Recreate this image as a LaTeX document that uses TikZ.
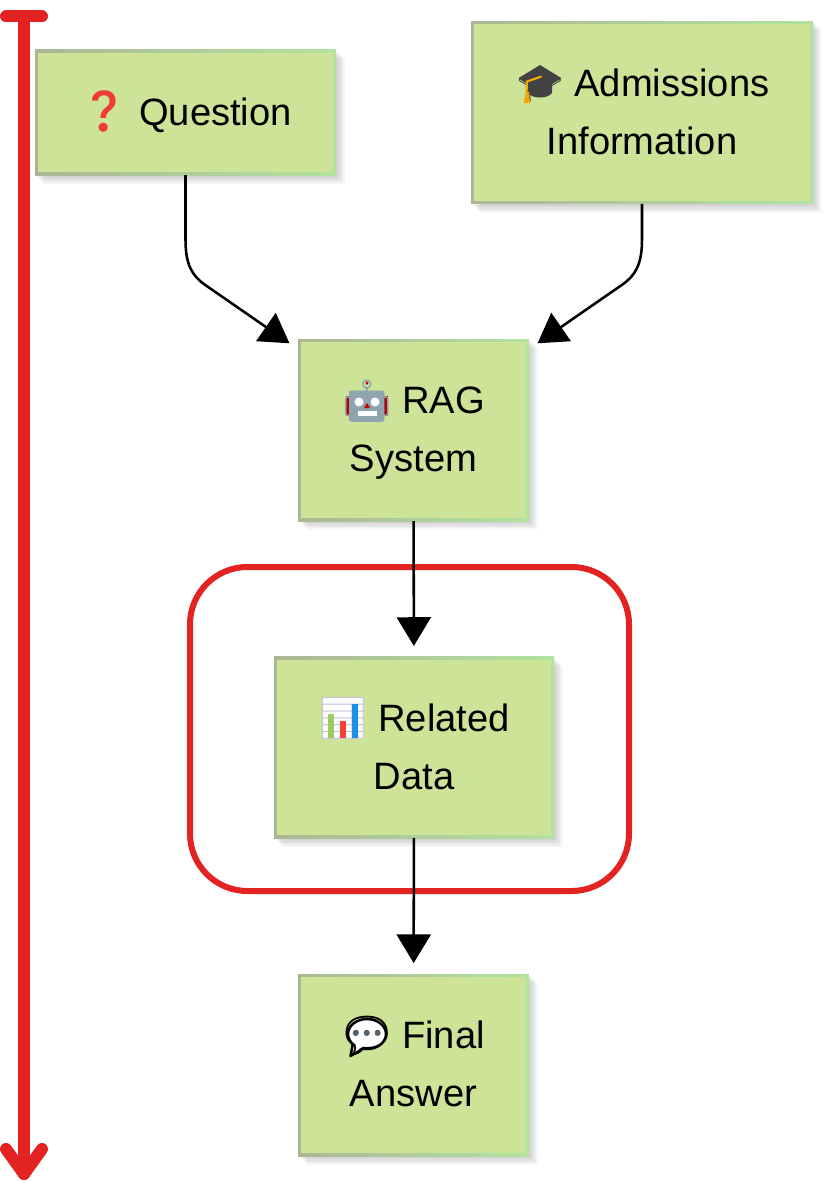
\documentclass[tikz,border=0pt]{standalone}
\usepackage{fontspec}
\setmainfont{Liberation Sans}
\newfontfamily\emojifont{Noto Emoji}
\usepackage{xcolor}
\usetikzlibrary{arrows.meta,shadows}
\definecolor{boxfill}{HTML}{CDE498}
\definecolor{edgeL}{HTML}{ABB794}
\definecolor{edgeR}{HTML}{B1E39F}
\definecolor{markred}{HTML}{E32222}
\definecolor{slate}{HTML}{90A4AE}
\definecolor{hatgray}{HTML}{424242}
\definecolor{tassel}{HTML}{F2A900}
\definecolor{qred}{HTML}{EF3B36}
\definecolor{bargreen}{HTML}{9CCC65}
\definecolor{barred}{HTML}{F44336}
\definecolor{barblue}{HTML}{1E90E8}
\newcommand*{\icongap}{\hspace*{45pt}}
\newcommand*{\topline}{\rule{0pt}{32pt}\strut}
\tikzset{
  soft/.style   ={drop shadow={shadow xshift=#1,shadow yshift=-#1,opacity=.03,fill=black}},
  box/.style    ={shade,left color=edgeL,right color=edgeR,shading angle=90,
                  inner sep=0pt,outer sep=0pt,align=center,
                  font=\fontsize{28.6}{43.5}\selectfont,
                  soft=6.5pt,soft=5.5pt,soft=4.5pt,soft=3.5pt,soft=2.5pt,soft=1.5pt,
                  path picture={\fill[boxfill]
                    ([shift={(2.2pt,-2.2pt)}]path picture bounding box.north west) rectangle
                    ([shift={(-2.2pt,2.2pt)}]path picture bounding box.south east);}},
  bigbox/.style ={box,minimum width=173pt,minimum height=136.5pt},
  flow/.style   ={-{Triangle[length=21.5pt,width=25.5pt]},line width=1.9pt,black},
  gapflow/.style={flow,shorten >=8.2pt},
  focus/.style  ={draw=markred,line width=4.5pt,rounded corners=43pt,inner sep=0pt,
                  minimum width=329.25pt,minimum height=243pt},
  timeline/.style={draw=markred,line width=9pt,line cap=round,line join=round},
  emo/.style    ={font=\emojifont\fontsize{29}{29}\selectfont,inner sep=0pt},
}
\begin{document}
\begin{tikzpicture}[x=.75pt,y=-.75pt]
  \useasboundingbox (0,0) rectangle (836,1181);
  % time axis on the left
  \coordinate (barL) at (6,16.5);
  \coordinate (barR) at (42,16.5);
  \coordinate (axisTop) at (24,16.5);
  \coordinate (axisEnd) at (24,1174);
  \coordinate (tipL) at (6,1149);
  \coordinate (tipR) at (42,1149);
  \draw[timeline] (barL) -- (barR);
  \draw[timeline] (axisTop) -- (axisEnd);
  \draw[timeline] (tipL) -- (axisEnd) -- (tipR);
  \node[focus] (focus) at (409.5,729) {};
  % boxes
  \node[box,minimum width=225.75pt,minimum height=94pt] (question) at (185.5,112.5) {\topline\icongap Question};
  \node[box,minimum width=256.5pt,minimum height=137pt] (admit) at (642,112.5) {\topline\icongap Admissions\\\strut Information};
  \node[bigbox] (rag) at (413.5,430) {\topline\icongap RAG\\\strut System};
  \node[box,minimum width=210pt,minimum height=136pt] (related) at (414,747.5) {\topline\icongap Related\\\strut Data};
  \node[bigbox] (answer) at (413.5,1065) {\topline\icongap Final\\\strut Answer};
  % question mark
  \node[emo,text=qred,scale=1.06] (qicon) at (104,111.5) {❓};
  % cap
  \fill[hatgray] (528,84) -- (552,84) -- (552,93) .. controls (548,99) and (532,99) .. (528,93) -- cycle;
  \fill[hatgray] (519,78) -- (540,65) -- (561,78) -- (540,91.5) -- cycle;
  \node[emo,text=hatgray,scale=.92] (hat) at (540,84) {🎓};
  \draw[tassel,line width=1.6pt] (541.5,76.5) -- (527,81.5) -- (526.5,94);
  \fill[tassel] (526,92) -- (529,92) -- (530,103) -- (523.5,103) -- cycle;
  % robot
  \fill[red!70!black] (346,396) rectangle (388,416);
  \fill[slate] (349,391) rectangle (384,421);
  \node[emo,text=slate,scale=1.08] (robot) at (367,401) {🤖};
  \fill[white] (359,402) circle (4.5) (375,402) circle (4.5);
  \fill[red!75!black] (367,403) -- (370,408) -- (364,408) -- cycle;
  \fill[white] (357.5,411) rectangle (376.5,416);
  \fill[red!75!black] (367,383) circle (1.6);
  % chart
  \fill[white] (322.5,698) rectangle (363.5,739);
  \node[emo,text=blue!15!gray!40,scale=1.07] (chart) at (343,718.5) {📊};
  \fill[bargreen] (328,714) rectangle (334,738);
  \fill[barred] (340,721) rectangle (346,738);
  \fill[barblue] (352,704) rectangle (358,738);
  % speech bubble
  \filldraw[fill=white,draw=black,line width=1.9pt,line join=round] (353,1043) -- (350.5,1056) -- (364,1048) -- cycle;
  \filldraw[fill=white,draw=black,line width=1.9pt] (367,1034) ellipse (19 and 15);
  \fill[white] (356,1043) -- (354,1052) -- (364,1046) -- cycle;
  \node[emo,scale=1.25] (bubble) at (367,1036) {💬};
  \fill[slate!60!black] (355.7,1033) circle (3) (366.7,1033) circle (3) (377.7,1033) circle (3);
  % connectors
  \draw[flow] (question.south) -- ++(0,65) .. controls +(0,25) and +(-13,-9) .. ++(20,45)
    -- ([shift={(-8.7,4.3)}]rag.north west);
  \draw[flow] (admit.south) -- ++(0,36) .. controls +(0,25) and +(13,-9) .. ++(-20,45)
    -- ([shift={(8.7,4.3)}]rag.north east);
  \draw[gapflow] (rag) -- (related);
  \draw[gapflow] (related) -- (answer);
\end{tikzpicture}
\end{document}
